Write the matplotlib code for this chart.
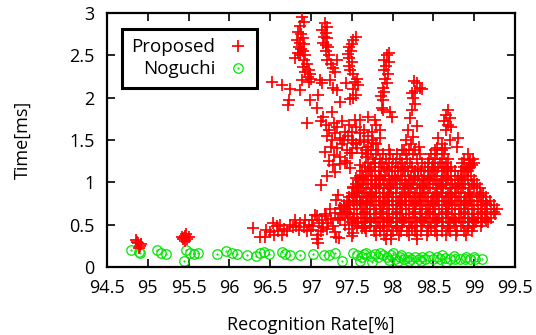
import matplotlib
matplotlib.use("Agg")
import matplotlib.pyplot as plt
from matplotlib.legend_handler import HandlerTuple

plt.rcParams['font.family'] = ['Open Sans', 'DejaVu Sans']

# --- Proposed: streaks reaching up from the main cloud (x, y) ---
streaks = [
    (96.89, 2.95), (96.86, 2.85), (96.92, 2.90), (96.84, 2.78), (96.88, 2.75),
    (96.90, 2.70), (96.83, 2.68), (96.86, 2.65), (96.92, 2.63), (96.85, 2.60),
    (96.88, 2.58), (96.90, 2.55), (96.84, 2.53), (96.87, 2.50), (96.93, 2.50),
    (96.91, 2.45), (96.95, 2.40), (96.90, 2.36), (96.97, 2.33), (96.99, 2.28),
    (96.96, 2.25), (97.00, 2.22), (96.98, 2.18), (96.80, 2.47), (96.93, 2.30),
    (97.17, 2.88), (97.20, 2.83), (97.14, 2.80), (97.18, 2.76), (97.16, 2.72),
    (97.20, 2.70), (97.15, 2.65), (97.18, 2.62), (97.21, 2.60), (97.19, 2.55),
    (97.22, 2.50), (97.20, 2.45), (97.25, 2.40), (97.32, 2.44), (97.27, 2.35),
    (97.30, 2.30), (97.55, 2.72), (97.52, 2.68), (97.50, 2.63), (97.47, 2.60),
    (97.49, 2.55), (97.45, 2.52), (97.47, 2.47), (97.50, 2.42), (97.46, 2.38),
    (97.48, 2.33), (97.52, 2.28), (97.56, 2.22), (97.54, 2.18), (97.58, 2.15),
    (97.52, 2.10), (97.55, 2.03), (97.96, 2.53), (97.93, 2.50), (97.90, 2.45),
    (97.95, 2.42), (97.92, 2.37), (97.90, 2.33), (97.94, 2.28), (97.91, 2.22),
    (97.93, 2.17), (97.88, 2.12), (97.90, 2.07), (97.86, 2.02), (97.88, 1.97),
    (97.87, 1.88), (97.97, 1.83), (97.99, 1.77), (97.78, 1.74), (98.30, 2.17),
    (98.26, 2.20), (98.33, 2.12), (98.28, 2.08), (98.24, 2.05), (98.36, 2.10),
    (98.25, 2.00), (98.24, 1.86), (98.27, 1.92), (98.21, 1.76), (98.19, 1.62),
    (98.30, 1.66), (98.25, 1.54), (98.16, 1.50), (98.22, 1.45), (98.32, 1.42),
    (98.14, 1.38), (98.68, 1.85), (98.65, 1.80), (98.70, 1.76), (98.63, 1.72),
    (98.68, 1.68), (98.72, 1.65), (98.66, 1.62), (98.70, 1.50), (98.80, 1.52),
    (98.79, 1.42), (98.56, 1.52), (98.60, 1.45), (98.55, 1.40), (98.64, 1.40),
    (98.95, 1.26), (98.97, 1.20), (98.93, 1.17),
]

# --- Proposed: scattered points and middle region ---
middle = [
    (96.52, 2.19), (96.64, 2.15), (96.74, 2.10), (96.73, 1.97), (96.72, 1.91),
    (96.87, 2.09), (96.89, 2.21), (96.99, 1.97), (97.11, 2.21), (97.13, 2.17),
    (97.23, 2.21), (97.32, 2.09), (97.27, 2.11), (97.09, 2.03), (97.07, 1.88),
    (96.95, 1.70), (97.26, 1.83), (97.36, 1.95), (97.43, 2.17), (97.51, 2.00),
    (97.48, 1.98), (97.15, 1.77), (97.54, 1.74), (97.60, 1.74), (97.70, 1.77),
    (97.88, 1.85), (97.12, 1.72), (97.18, 1.68), (97.22, 1.62), (97.28, 1.70),
    (97.32, 1.65), (97.38, 1.72), (97.42, 1.60), (97.47, 1.68), (97.50, 1.60),
    (97.55, 1.65), (97.60, 1.58), (97.65, 1.62), (97.70, 1.55), (97.75, 1.60),
    (97.80, 1.68), (97.85, 1.62), (97.20, 1.55), (97.26, 1.50), (97.30, 1.58),
    (97.35, 1.52), (97.40, 1.50), (97.45, 1.55), (97.50, 1.50), (97.55, 1.45),
    (97.60, 1.50), (97.65, 1.48), (97.70, 1.42), (97.75, 1.50), (97.80, 1.45),
    (97.85, 1.52), (97.25, 1.42), (97.32, 1.40), (97.38, 1.45), (97.44, 1.38),
    (97.50, 1.35), (97.56, 1.40), (97.62, 1.35), (97.68, 1.30), (97.28, 1.32),
    (97.35, 1.30), (97.42, 1.25), (97.22, 1.25), (97.27, 1.20), (97.30, 1.12),
    (97.20, 1.08), (97.12, 0.97), (97.35, 1.22), (97.48, 1.17), (97.55, 1.05),
    (97.52, 0.95), (97.58, 0.90), (97.60, 1.20), (97.68, 1.38), (97.76, 1.46),
    (97.78, 1.23), (97.17, 1.36), (97.44, 1.23), (97.48, 1.35), (97.52, 1.46),
    (97.33, 0.85), (97.31, 0.79),
]

# --- Proposed: dense cloud, rows of (y, x values) ---
cloud_top = [
    (1.38, [97.74, 97.82, 97.95, 98.12, 98.20, 98.28, 98.52, 98.60]),
    (1.33, [97.70, 97.80, 97.88, 97.97, 98.05, 98.16, 98.25, 98.33, 98.47,
            98.55, 98.63, 98.93]),
    (1.28, [97.76, 97.84, 97.92, 98.01, 98.09, 98.18, 98.30, 98.45, 98.52,
            98.60, 98.68, 98.88, 98.98]),
    (1.23, [97.70, 97.79, 97.87, 97.96, 98.04, 98.12, 98.21, 98.36, 98.44,
            98.50, 98.58, 98.66, 98.85, 98.94, 99.00]),
    (1.18, [97.66, 97.74, 97.83, 97.90, 97.99, 98.07, 98.15, 98.24, 98.40,
            98.48, 98.56, 98.63, 98.71, 98.87, 98.95]),
    (1.13, [97.62, 97.70, 97.78, 97.86, 97.95, 98.03, 98.10, 98.19, 98.27,
            98.35, 98.44, 98.52, 98.60, 98.68, 98.76, 98.84, 98.92]),
    (1.08, [97.60, 97.68, 97.75, 97.83, 97.91, 97.99, 98.07, 98.15, 98.23,
            98.31, 98.39, 98.47, 98.55, 98.63, 98.71, 98.80, 98.88, 98.96]),
]
cloud_mid = [
    (1.03, [97.58, 97.65, 97.73, 97.80, 97.88, 97.96, 98.04, 98.12, 98.20,
            98.28, 98.36, 98.44, 98.52, 98.60, 98.68, 98.76, 98.84, 98.92, 99.00]),
    (0.98, [97.55, 97.62, 97.70, 97.78, 97.85, 97.93, 98.01, 98.09, 98.17,
            98.25, 98.33, 98.41, 98.49, 98.57, 98.65, 98.73, 98.81, 98.89,
            98.97, 99.04]),
    (0.93, [97.52, 97.60, 97.67, 97.75, 97.83, 97.90, 97.98, 98.06, 98.14,
            98.22, 98.30, 98.38, 98.46, 98.54, 98.62, 98.70, 98.78, 98.86,
            98.94, 99.07]),
    (0.88, [97.50, 97.57, 97.65, 97.72, 97.80, 97.88, 97.96, 98.04, 98.12,
            98.20, 98.28, 98.36, 98.44, 98.52, 98.60, 98.68, 98.76, 98.84,
            98.92, 99.03, 99.11]),
    (0.83, [97.47, 97.55, 97.62, 97.70, 97.77, 97.85, 97.93, 98.01, 98.09,
            98.17, 98.25, 98.33, 98.41, 98.49, 98.57, 98.65, 98.73, 98.81,
            98.89, 98.97, 99.06, 99.14]),
    (0.78, [97.44, 97.52, 97.60, 97.67, 97.75, 97.83, 97.91, 97.99, 98.07,
            98.15, 98.23, 98.31, 98.39, 98.47, 98.55, 98.63, 98.71, 98.79,
            98.87, 98.95, 99.03, 99.11, 99.19]),
]
cloud_low = [
    (0.73, [97.40, 97.48, 97.56, 97.64, 97.72, 97.80, 97.88, 97.96, 98.04,
            98.12, 98.20, 98.28, 98.36, 98.44, 98.52, 98.60, 98.68, 98.76,
            98.84, 98.92, 99.00, 99.08, 99.16, 99.24]),
    (0.68, [97.37, 97.45, 97.53, 97.61, 97.69, 97.77, 97.85, 97.93, 98.01,
            98.09, 98.17, 98.25, 98.33, 98.41, 98.49, 98.57, 98.65, 98.73,
            98.81, 98.89, 98.97, 99.05, 99.13, 99.21, 99.28]),
    (0.63, [97.40, 97.48, 97.56, 97.64, 97.72, 97.80, 97.88, 97.96, 98.04,
            98.12, 98.20, 98.28, 98.36, 98.44, 98.52, 98.60, 98.68, 98.76,
            98.84, 98.92, 99.00, 99.08, 99.16, 99.25]),
    (0.58, [97.45, 97.53, 97.61, 97.69, 97.77, 97.85, 97.93, 98.01, 98.09,
            98.17, 98.25, 98.33, 98.41, 98.49, 98.57, 98.65, 98.73, 98.81,
            98.89, 98.97, 99.05, 99.13, 99.20]),
    (0.53, [97.50, 97.58, 97.66, 97.74, 97.82, 97.90, 97.98, 98.06, 98.14,
            98.22, 98.30, 98.38, 98.46, 98.54, 98.62, 98.70, 98.78, 98.86,
            98.94, 99.02, 99.10, 99.17]),
    (0.48, [97.56, 97.64, 97.72, 97.80, 97.88, 97.96, 98.04, 98.12, 98.20,
            98.28, 98.36, 98.44, 98.52, 98.60, 98.68, 98.76, 98.84, 98.92,
            99.00, 99.08]),
    (0.43, [97.68, 97.77, 97.85, 97.93, 98.01, 98.10, 98.18, 98.27, 98.35,
            98.44, 98.52, 98.61, 98.70, 98.79, 98.88, 98.97]),
    (0.38, [97.80, 97.90, 97.98, 98.08, 98.20, 98.30, 98.42, 98.55, 98.66,
            98.78, 98.90]),
    (0.33, [97.92, 97.98, 98.30]),
]
# in-between points of the cloud
cloud_fill = [
    (1.155, [97.72, 97.93, 98.13, 98.31, 98.50, 98.67, 98.90]),
    (1.055, [97.64, 97.85, 98.03, 98.26, 98.45, 98.65, 98.85]),
    (0.955, [97.58, 97.80, 97.97, 98.19, 98.37, 98.59, 98.80, 99.00]),
    (0.855, [97.53, 97.74, 97.94, 98.15, 98.33, 98.55, 98.72, 98.95, 99.08]),
    (0.755, [97.47, 97.69, 97.90, 98.10, 98.29, 98.50, 98.69, 98.90, 99.14]),
    (0.655, [97.43, 97.66, 97.86, 98.06, 98.27, 98.46, 98.66, 98.87, 99.10, 99.24]),
    (0.555, [97.51, 97.72, 97.93, 98.13, 98.35, 98.55, 98.75, 98.98, 99.15]),
    (0.455, [97.62, 97.84, 98.05, 98.24, 98.47, 98.68, 98.92]),
]

# --- Proposed: low band and the two small clusters on the left ---
low_band = [
    (96.29, 0.46), (96.37, 0.36), (96.44, 0.36), (96.50, 0.41), (96.53, 0.52),
    (96.58, 0.48), (96.60, 0.42), (96.64, 0.38), (96.67, 0.45), (96.70, 0.43),
    (96.74, 0.50), (96.78, 0.47), (96.82, 0.49), (96.85, 0.44), (96.87, 0.52),
    (96.91, 0.47), (96.93, 0.55), (96.95, 0.43), (96.98, 0.50), (97.01, 0.56),
    (97.03, 0.48), (97.05, 0.62), (97.07, 0.60), (97.07, 0.33), (97.08, 0.38),
    (97.10, 0.52), (97.13, 0.56), (97.15, 0.47), (97.17, 0.63), (97.19, 0.60),
    (97.21, 0.52), (97.23, 0.68), (97.25, 0.57), (97.27, 0.48), (97.29, 0.64),
    (97.31, 0.36), (97.30, 0.41), (97.33, 0.58), (97.36, 0.56), (97.35, 0.70),
    (97.38, 0.63), (97.40, 0.72), (97.42, 0.50), (97.44, 0.64), (97.47, 0.45),
    (97.54, 0.52), (97.52, 0.40), (97.50, 0.37), (97.66, 0.46), (97.60, 0.76),
    (96.45, 0.44), (96.55, 0.38), (96.62, 0.50), (96.80, 0.55), (97.00, 0.44),
    (97.12, 0.42), (97.20, 0.45), (97.09, 0.28), (97.34, 0.34),
]
left_clusters = [
    (94.86, 0.32), (94.88, 0.28), (94.90, 0.25), (94.89, 0.22), (94.92, 0.27),
    (94.87, 0.30), (95.42, 0.36), (95.44, 0.34), (95.46, 0.37), (95.48, 0.33),
    (95.45, 0.31), (95.50, 0.35), (95.47, 0.39), (95.43, 0.33),
]

# --- Noguchi ---
noguchi_x = [94.80, 94.90, 94.89, 95.11, 95.16, 95.22, 95.47, 95.44, 95.52,
             95.57, 95.61, 95.85, 95.96, 96.03, 96.09, 96.21, 96.33, 96.37,
             96.42, 96.48, 96.64, 96.68, 96.74, 96.87, 97.03, 97.16, 97.22,
             97.30, 97.38, 97.52, 97.56, 97.62, 97.68, 97.73, 97.78, 97.82,
             97.88, 97.93, 97.98, 98.03, 98.09, 98.14, 98.19, 98.23, 98.27,
             98.32, 98.36, 98.40, 98.54, 98.58, 98.64, 98.70, 98.76, 98.83,
             98.89, 98.95, 99.01, 99.09, 97.60, 97.75, 98.07, 97.65, 97.85,
             98.00, 98.10, 98.45, 98.50, 98.60, 98.75, 98.90, 99.00, 97.95,
             98.20, 98.35, 98.65]
noguchi_y = [0.20, 0.165, 0.18, 0.20, 0.17, 0.15, 0.20, 0.07, 0.165,
             0.15, 0.165, 0.15, 0.19, 0.165, 0.15, 0.14, 0.13, 0.165,
             0.18, 0.15, 0.18, 0.15, 0.14, 0.14, 0.15, 0.14, 0.14,
             0.165, 0.07, 0.165, 0.14, 0.12, 0.165, 0.13, 0.15, 0.12,
             0.14, 0.12, 0.14, 0.10, 0.12, 0.10, 0.12, 0.10, 0.12,
             0.10, 0.12, 0.10, 0.12, 0.09, 0.11, 0.09, 0.10, 0.10,
             0.09, 0.10, 0.09, 0.09, 0.07, 0.06, 0.07, 0.15, 0.17,
             0.16, 0.14, 0.13, 0.10, 0.14, 0.13, 0.12, 0.12, 0.08,
             0.07, 0.07, 0.06]

xticks = [94.5, 95, 95.5, 96, 96.5, 97, 97.5, 98, 98.5, 99, 99.5]
yticks = [0, 0.5, 1, 1.5, 2, 2.5, 3]

# collect proposed points
prop_x, prop_y = [], []
for x, y in streaks + middle + low_band + left_clusters:
    prop_x.append(x)
    prop_y.append(y)
for y, xs in cloud_top + cloud_mid + cloud_low + cloud_fill:
    for x in xs:
        prop_x.append(x)
        prop_y.append(y)

fig = plt.figure(figsize=(5.36, 3.35), dpi=100)
ax = fig.add_axes([0.1996, 0.203, 0.7612, 0.758])

green = '#00e600'
p1, = ax.plot(prop_x, prop_y, '+', color='#ff0000', ms=9, mew=1.25, zorder=3)
c1, = ax.plot(noguchi_x, noguchi_y, 'o', mfc='none', mec=green, ms=6.8, mew=0.9,
              zorder=2)
c2, = ax.plot(noguchi_x, noguchi_y, '.', color=green, ms=1.2, zorder=2)

ax.set_xlim(94.5, 99.5)
ax.set_ylim(0, 3)
ax.set_xticks(xticks)
ax.set_yticks(yticks)
ax.set_xticklabels([f"{v:g}" for v in xticks])
ax.set_yticklabels([f"{v:g}" for v in yticks])
ax.tick_params(direction='in', top=True, right=True, length=6, width=1.2,
               labelsize=13, pad=9, colors='black')
for s in ax.spines.values():
    s.set_linewidth(1.6)

ax.set_xlabel('Recognition Rate[%]', fontsize=13, labelpad=13)
ax.set_ylabel('Time[ms]', fontsize=13, labelpad=27)

leg = ax.legend([p1, (c1, c2)], ['Proposed', 'Noguchi'],
                handler_map={tuple: HandlerTuple(ndivide=1)},
                loc='upper left', bbox_to_anchor=(0.037, 0.937),
                borderaxespad=0, markerfirst=False, fontsize=13.5,
                handlelength=1.0, handletextpad=0.7, labelspacing=0.2,
                borderpad=0.5, fancybox=False, framealpha=1)
leg.get_frame().set_edgecolor('black')
leg.get_frame().set_linewidth(2.2)

fig.savefig('out.png', dpi=100)
